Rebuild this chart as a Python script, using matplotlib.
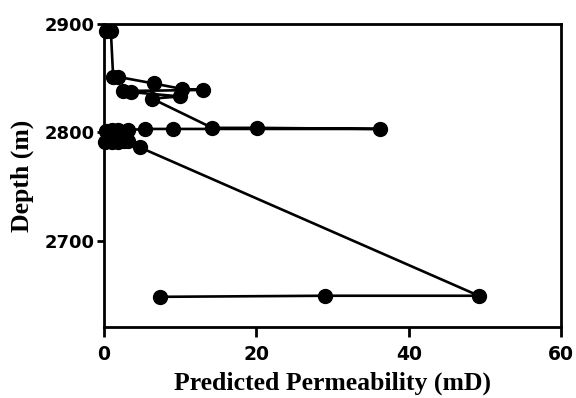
import matplotlib
matplotlib.use("Agg")
import matplotlib.pyplot as plt

permeability = [0.2, 0.9, 1.2, 1.9, 6.5, 10.2, 13.0, 2.5, 3.6, 10.0, 6.3,
                14.2, 20.1, 36.2, 9.0, 5.4, 3.2, 1.8, 1.0, 0.2,
                0.1, 1.0, 1.9, 2.6, 3.2, 4.7, 49.2, 29.0, 7.3]
depth = [2893, 2893, 2851, 2851, 2845, 2840, 2839, 2838, 2837, 2833, 2831,
         2804, 2804, 2803, 2803, 2803, 2802, 2802, 2802, 2801,
         2791, 2791, 2791, 2792, 2792, 2786, 2649, 2649, 2648]

xticks = [0, 20, 40, 60]
yticks = [2700, 2800, 2900]

fig = plt.figure(figsize=(5.76, 3.98), dpi=100)
ax = fig.add_axes([0.1806, 0.178, 0.7934, 0.762])

ax.plot(permeability, depth, color="black", lw=1.9, marker="o",
        markersize=10, markerfacecolor="black", markeredgecolor="black",
        clip_on=False, zorder=3)

ax.set_xlim(0, 60)
ax.set_ylim(2620, 2900)
ax.set_xticks(xticks)
ax.set_yticks(yticks)

for s in ax.spines.values():
    s.set_linewidth(2.0)

ax.tick_params(axis="x", direction="out", length=7, width=2.0, pad=6)
ax.tick_params(axis="y", direction="out", length=5, width=2.0, pad=2)

for lab in ax.get_xticklabels():
    lab.set_fontfamily("DejaVu Sans")
    lab.set_fontweight("bold")
    lab.set_fontsize(13.5)
for lab in ax.get_yticklabels():
    lab.set_fontfamily("DejaVu Sans")
    lab.set_fontweight("bold")
    lab.set_fontsize(13)

ax.set_xlabel("Predicted Permeability (mD)", fontfamily="Liberation Serif",
              fontweight="bold", fontsize=18.5, labelpad=5)
ax.set_ylabel("Depth (m)", fontfamily="Liberation Serif",
              fontweight="bold", fontsize=18.5, labelpad=7)

fig.savefig("out.png", dpi=100)
